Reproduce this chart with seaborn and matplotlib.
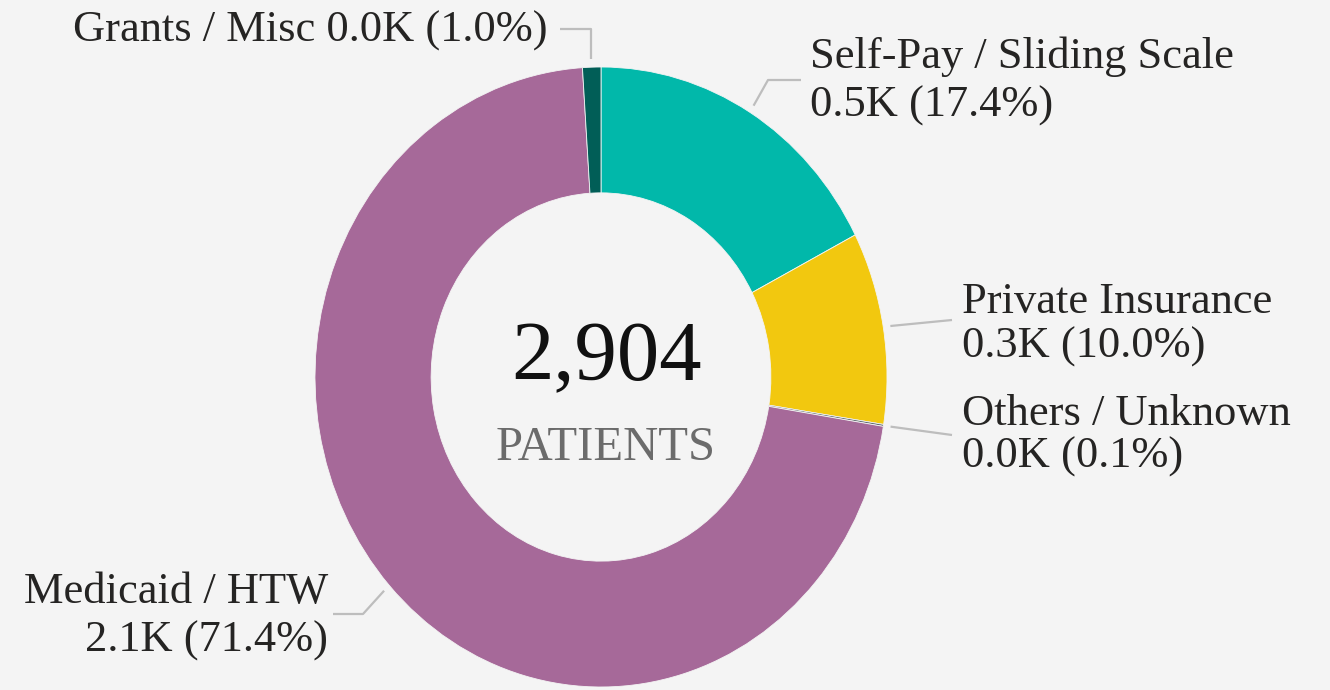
import matplotlib
matplotlib.use("Agg")
import matplotlib.pyplot as plt
import seaborn as sns
import numpy as np

# ---- data ----
categories = ["Self-Pay / Sliding Scale", "Private Insurance", "Others / Unknown",
              "Medicaid / HTW", "Grants / Misc"]
patients = [506, 291, 3, 2074, 30]
colors = ["#01B8AA", "#F2C80F", "#5F6B6D", "#A66999", "#015E57"]
center_caption = "PATIENTS"

BG = "#F4F4F4"
W, H = 1330, 690

sns.set_theme(style="white", rc={"axes.facecolor": BG, "figure.facecolor": BG})
plt.rcParams["font.family"] = ["Liberation Serif", "DejaVu Serif"]

fig = plt.figure(figsize=(W / 100, H / 100), dpi=100)
fig.patch.set_facecolor(BG)

# donut axes (pixel box of the ring)
left, right, top, bottom = 315, 887, 67, 687
pie_ax = fig.add_axes([left / W, (H - bottom) / H, (right - left) / W, (bottom - top) / H])
wedges, _ = pie_ax.pie(patients, colors=colors, startangle=90, counterclock=False,
                       radius=1.0,
                       wedgeprops=dict(width=0.406, edgecolor=BG, linewidth=0.6))
pie_ax.set_aspect("auto")
pie_ax.set_xlim(-1, 1)
pie_ax.set_ylim(-1, 1)
pie_ax.axis("off")

# overlay axes in pixel coordinates
ov = fig.add_axes([0, 0, 1, 1])
ov.set_xlim(0, W)
ov.set_ylim(H, 0)
ov.axis("off")
ov.patch.set_alpha(0)

total = sum(patients)


def pie_to_px(x, y):
    d = pie_ax.transData.transform((x, y))
    return ov.transData.inverted().transform(d)


# label layout: text anchor, alignment, baselines, leader path after the start point
layout = {
    "Grants / Misc": dict(x=548, ha="right", lines=1, y=[42], path=lambda s: [(s[0], 29), (560, 29)]),
    "Self-Pay / Sliding Scale": dict(x=810, ha="left", lines=2, y=[68, 117],
                                     path=lambda s: [(768, 80), (801, 80)]),
    "Private Insurance": dict(x=962, ha="left", lines=2, y=[313, 358],
                              path=lambda s: [(952, 320)]),
    "Others / Unknown": dict(x=962, ha="left", lines=2, y=[425, 468],
                             path=lambda s: [(952, 435)]),
    "Medicaid / HTW": dict(x=328, ha="right", lines=2, y=[603, 652],
                           path=lambda s: [(363, 614), (333, 614)]),
}

LBL = dict(fontsize=32, color="#252423")
for w, cat, v in zip(wedges, categories, patients):
    mid = np.deg2rad((w.theta1 + w.theta2) / 2)
    r = 1.025
    s = pie_to_px(r * np.cos(mid), r * np.sin(mid))
    L = layout[cat]
    pts = [tuple(s)] + L["path"](s)
    xs, ys = zip(*pts)
    ov.plot(xs, ys, color="#BDBDBD", lw=1.6, solid_capstyle="butt")
    val = f"{v / 1000:.1f}K ({v / total * 100:.1f}%)"
    if L["lines"] == 1:
        ov.text(L["x"], L["y"][0], f"{cat} {val}", ha=L["ha"], va="baseline", **LBL)
    else:
        ov.text(L["x"], L["y"][0], cat, ha=L["ha"], va="baseline", **LBL)
        ov.text(L["x"], L["y"][1], val, ha=L["ha"], va="baseline", **LBL)

# center texts
ov.text(607, 380, f"{total:,}", ha="center", va="baseline", fontsize=61, color="#111111")
ov.text(606, 460, center_caption, ha="center", va="baseline", fontsize=35, color="#6B6B6B")

fig.savefig("out.png", dpi=100, facecolor=BG)
